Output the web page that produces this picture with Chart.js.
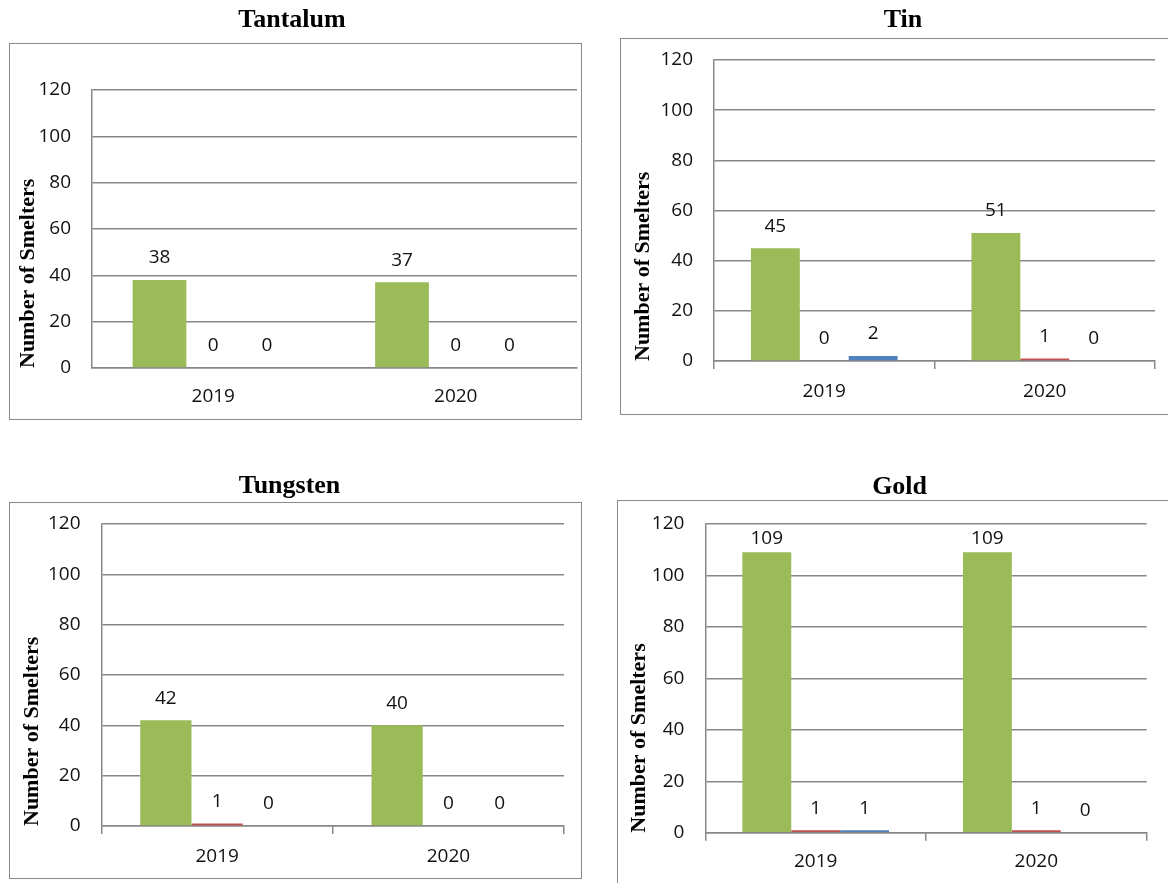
<!DOCTYPE html>
<html><head><meta charset="utf-8">
<script src="https://cdn.jsdelivr.net/npm/chart.js@4/dist/chart.umd.min.js"></script>
<style>
html,body{margin:0;padding:0;background:#fff;overflow:hidden;width:1168px;height:883px;}
.box{position:absolute;border:1.5px solid #8a8a8a;box-sizing:border-box;}
.wrap{position:absolute;}
canvas{display:block;}
</style></head><body>
<div class="box" style="left:9px;top:43px;width:573px;height:377px"></div>
<div class="box" style="left:620px;top:38px;width:560px;height:377px"></div>
<div class="box" style="left:9px;top:502px;width:573px;height:377px"></div>
<div class="box" style="left:617px;top:500px;width:560px;height:400px"></div>
<div class="wrap" style="left:0;top:0"><canvas id="c1" width="590" height="430"></canvas></div>
<div class="wrap" style="left:590px;top:0"><canvas id="c2" width="578" height="430"></canvas></div>
<div class="wrap" style="left:0;top:440px"><canvas id="c3" width="590" height="443"></canvas></div>
<div class="wrap" style="left:590px;top:440px"><canvas id="c4" width="578" height="443"></canvas></div>
<script>
// ---- data ----
const categories = ['2019', '2020'];
const seriesNames = ['Series 1', 'Series 2', 'Series 3'];
const yTickLabels = [0, 20, 40, 60, 80, 100, 120];
const yAxisTitle = 'Number of Smelters';

const tantalumTitle = 'Tantalum';
const tantalumGreen = [38, 37];
const tantalumRed = [0, 0];
const tantalumBlue = [0, 0];

const tinTitle = 'Tin';
const tinGreen = [45, 51];
const tinRed = [0, 1];
const tinBlue = [2, 0];

const tungstenTitle = 'Tungsten';
const tungstenGreen = [42, 40];
const tungstenRed = [1, 0];
const tungstenBlue = [0, 0];

const goldTitle = 'Gold';
const goldGreen = [109, 109];
const goldRed = [1, 1];
const goldBlue = [1, 0];

// ---- styles ----
const COLORS = ['#9BBB59', '#C0504D', '#4F81BD'];
const GRID = '#878787';
const TEXT = '#111111';
const SANS = "'Open Sans', 'Liberation Sans', sans-serif";
const SERIF = "'Liberation Serif', 'Times New Roman', serif";

const valueLabels = {
  id: 'valueLabels',
  afterDatasetsDraw(chart, args, opts) {
    const ctx = chart.ctx;
    ctx.save();
    ctx.font = opts.size + 'px ' + SANS;
    ctx.fillStyle = TEXT;
    ctx.textAlign = 'center';
    ctx.textBaseline = 'middle';
    chart.data.datasets.forEach((ds, i) => {
      chart.getDatasetMeta(i).data.forEach((el, j) => {
        const y = Math.max(el.y - opts.offset, chart.chartArea.top + opts.minTop);
        ctx.fillText(String(ds.data[j]), el.x, y);
      });
    });
    ctx.restore();
  }
};

function makeChart(id, title, series, L) {
  new Chart(document.getElementById(id), {
    type: 'bar',
    data: {
      labels: categories,
      datasets: series.map((d, i) => ({
        label: seriesNames[i], data: d, backgroundColor: COLORS[i], borderWidth: 0,
        categoryPercentage: 0.665, barPercentage: 1
      }))
    },
    plugins: [valueLabels],
    options: {
      responsive: false, animation: false, devicePixelRatio: 1,
      layout: { padding: { left: L.padL, right: L.padR, top: 0, bottom: 0 } },
      plugins: {
        legend: { display: false },
        tooltip: { enabled: false },
        title: {
          display: true, text: title, color: '#000',
          font: { family: SERIF, size: 26, weight: 'bold', lineHeight: 1.2 },
          padding: { top: L.tTop, bottom: L.tBottom }
        },
        valueLabels: { size: 19, offset: 22, minTop: 14.3 }
      },
      scales: {
        x: {
          afterFit: s => { s.height = L.xH; },
          grid: { display: true, drawOnChartArea: false, drawTicks: L.tick > 0, tickLength: L.tick, color: GRID, lineWidth: 1.5, offset: true },
          border: { display: true, color: GRID, width: 1.5 },
          ticks: { color: TEXT, padding: L.xPad, font: { family: SANS, size: 19, lineHeight: 1.2 } }
        },
        y: {
          min: 0, max: 120,
          afterFit: s => { s.width = L.yW; },
          afterBuildTicks: s => { s.ticks = yTickLabels.map(v => ({ value: v })); },
          grid: { color: GRID, lineWidth: 1.5, drawTicks: false },
          border: { display: true, color: GRID, width: 1.5 },
          ticks: { color: TEXT, padding: 21, font: { family: SANS, size: 19, lineHeight: 1.2 } },
          title: {
            display: true, text: yAxisTitle, align: 'start', color: '#000',
            font: { family: SERIF, size: 22, weight: 'bold', lineHeight: 1.2 },
            padding: { top: L.yTPad, bottom: 0 }
          }
        }
      }
    }
  });
}

makeChart('c1', tantalumTitle, [tantalumGreen, tantalumRed, tantalumBlue],
  { padL: 7, padR: 13, yW: 85, yTPad: 7.8, tTop: 4.9, tBottom: 53.9, xH: 62, tick: 0, xPad: 17.6 });
makeChart('c2', tinTitle, [tinGreen, tinRed, tinBlue],
  { padL: 61, padR: 13, yW: 63, yTPad: -21.2, tTop: 4.4, tBottom: 24.4, xH: 69, tick: 8, xPad: 11.3 });
makeChart('c3', tungstenTitle, [tungstenGreen, tungstenRed, tungstenBlue],
  { padL: 15, padR: 26, yW: 86.5, yTPad: 3.8, tTop: 30.2, tBottom: 22.6, xH: 57, tick: 8, xPad: 11.6 });
makeChart('c4', goldTitle, [goldGreen, goldRed, goldBlue],
  { padL: 62.6, padR: 21.4, yW: 52.8, yTPad: -26.8, tTop: 31.4, tBottom: 21.4, xH: 50.3, tick: 8, xPad: 9.6 });
</script>
</body></html>
